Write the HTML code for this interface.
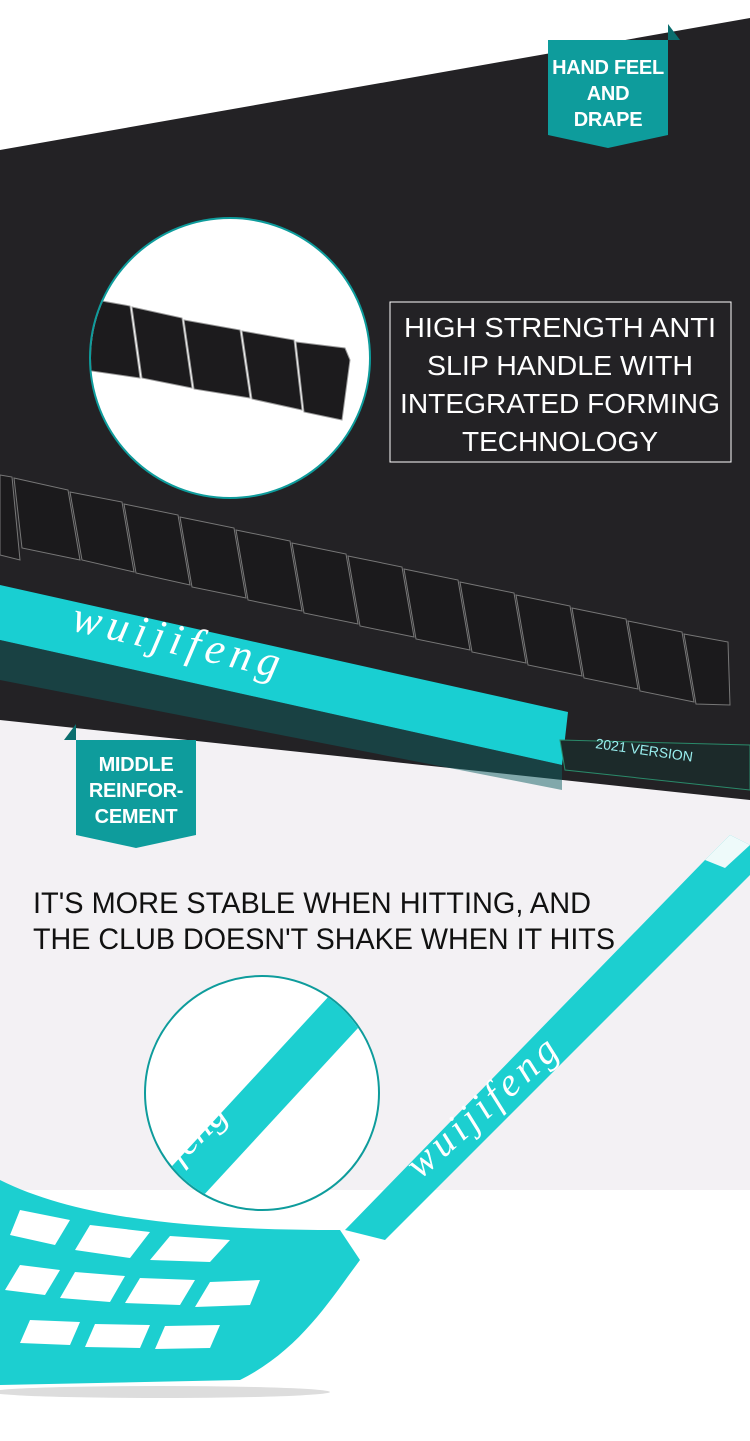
<!DOCTYPE html>
<html><head><meta charset="utf-8"><style>
html,body{margin:0;padding:0}
body{width:750px;height:1441px;position:relative;overflow:hidden;background:#fff;font-family:"Liberation Sans",sans-serif}
.abs{position:absolute}
.badge{position:absolute;width:120px;color:#fff;font-weight:bold;font-size:20px;line-height:26px;text-align:center;white-space:nowrap;letter-spacing:-0.3px}
</style></head><body>
<svg class="abs" style="left:0;top:0" width="750" height="1441" viewBox="0 0 750 1441">
 <rect x="0" y="0" width="750" height="1441" fill="#fff"/>
 <rect x="0" y="700" width="750" height="490" fill="#f3f1f4"/>
 <polygon points="0,150 750,18 750,800 0,720" fill="#232225"/>
 <g fill="#1b1a1c" stroke="#777" stroke-width="1">
  <polygon points="0,475 12,477 20,560 0,555"/>
  <polygon points="14,478 68,490 80,560 22,548"/>
  <polygon points="70,492 122,502 134,572 82,560"/>
  <polygon points="124,504 178,515 190,585 136,573"/>
  <polygon points="180,517 234,528 246,598 192,587"/>
  <polygon points="236,530 290,541 302,611 248,600"/>
  <polygon points="292,543 346,554 358,624 304,613"/>
  <polygon points="348,556 402,567 414,637 360,626"/>
  <polygon points="404,569 458,580 470,650 416,639"/>
  <polygon points="460,582 514,593 526,663 472,652"/>
  <polygon points="516,595 570,606 582,676 528,665"/>
  <polygon points="572,608 626,619 638,689 584,678"/>
  <polygon points="628,621 682,632 694,702 640,691"/>
  <polygon points="684,634 728,642 730,705 696,704"/>
 </g>
 <polygon points="0,585 568,712 562,765 0,640" fill="#19cfd2"/>
 <polygon points="0,640 562,765 562,790 0,680" fill="#0f5f62" opacity="0.5"/>
 <text x="70" y="630" fill="#fff" font-family="Liberation Serif,serif" font-style="italic" font-size="44" transform="rotate(13 70 630)" letter-spacing="6">wuijifeng</text>
 <polygon points="560,740 750,745 750,790 565,770" fill="#1c2a2a" stroke="#2a8a6a"/>
 <text x="595" y="748" fill="#9ee" font-size="14" transform="rotate(8 595 748)">2021 VERSION</text>
 <polygon points="730,835 750,845 750,875 385,1240 345,1230 705,860" fill="#1ccfd0"/>
 <polygon points="705,860 730,835 750,845 725,868" fill="#eefafa"/>
 <text x="420" y="1180" fill="#fff" font-family="Liberation Serif,serif" font-style="italic" font-size="40" transform="rotate(-42 420 1180)" letter-spacing="5">wuijifeng</text>
 <path d="M0,1180 C80,1220 200,1230 340,1230 L360,1260 C330,1300 300,1350 240,1380 L0,1385 Z" fill="#1ccfd0"/>
 <g fill="#fff">
  <polygon points="20,1210 70,1220 55,1245 10,1235"/>
  <polygon points="90,1225 150,1232 130,1258 75,1250"/>
  <polygon points="170,1236 230,1240 210,1262 150,1260"/>
  <polygon points="20,1265 60,1270 45,1295 5,1290"/>
  <polygon points="75,1272 125,1276 110,1302 60,1298"/>
  <polygon points="140,1278 195,1280 180,1305 125,1303"/>
  <polygon points="210,1282 260,1280 250,1305 195,1307"/>
  <polygon points="30,1320 80,1322 70,1345 20,1343"/>
  <polygon points="95,1324 150,1325 140,1348 85,1347"/>
  <polygon points="165,1326 220,1325 210,1348 155,1349"/>
 </g>
 <ellipse cx="160" cy="1392" rx="170" ry="6" fill="#ddd"/>
 <circle cx="230" cy="358" r="140" fill="#fff" stroke="#0e9c9c" stroke-width="2"/>
 <clipPath id="c1"><circle cx="230" cy="358" r="139"/></clipPath>
 <g clip-path="url(#c1)" fill="#1c1b1d" stroke="#999" stroke-width="1">
  <polygon points="85,298 130,306 140,378 85,370"/>
  <polygon points="132,307 182,318 192,388 142,378"/>
  <polygon points="184,320 240,330 250,398 194,389"/>
  <polygon points="242,331 294,340 302,410 252,399"/>
  <polygon points="296,342 345,348 350,360 342,420 304,412"/>
 </g>
 <circle cx="262" cy="1093" r="117" fill="#fff" stroke="#0e9c9c" stroke-width="2"/>
 <clipPath id="c2"><circle cx="262" cy="1093" r="116"/></clipPath>
 <g clip-path="url(#c2)">
  <polygon points="330,995 370,1015 190,1210 150,1190" fill="#1ccfd0"/>
  <text x="180" y="1165" fill="#fff" font-family="Liberation Serif,serif" font-style="italic" font-size="40" transform="rotate(-45 180 1165)">feng</text>
 </g>
 <rect x="390" y="302" width="341" height="160" fill="none" stroke="#fff" stroke-width="1"/>
 <g fill="#fff" font-size="28" text-anchor="middle" font-family="Liberation Sans,sans-serif">
  <text x="560" y="337" textLength="312" lengthAdjust="spacingAndGlyphs">HIGH STRENGTH ANTI</text>
  <text x="560" y="375" textLength="266" lengthAdjust="spacingAndGlyphs">SLIP HANDLE WITH</text>
  <text x="560" y="413" textLength="320" lengthAdjust="spacingAndGlyphs">INTEGRATED FORMING</text>
  <text x="560" y="451" textLength="196" lengthAdjust="spacingAndGlyphs">TECHNOLOGY</text>
 </g>
 <g fill="#111" font-size="30">
  <text x="33" y="913" textLength="558" lengthAdjust="spacingAndGlyphs">IT'S MORE STABLE WHEN HITTING, AND</text>
  <text x="33" y="949" textLength="582" lengthAdjust="spacingAndGlyphs">THE CLUB DOESN'T SHAKE WHEN IT HITS</text>
 </g>
 <polygon points="548,40 668,40 668,135 608,148 548,135" fill="#0e9c9c"/>
 <polygon points="668,24 668,40 680,40" fill="#0a6e6e"/>
 <polygon points="76,740 196,740 196,835 136,848 76,835" fill="#0e9c9c"/>
 <polygon points="76,724 76,740 64,740" fill="#0a6e6e"/>
</svg>
<div class="badge" style="left:548px;top:55px;">HAND FEEL<br>AND<br>DRAPE</div>
<div class="badge" style="left:76px;top:752px;">MIDDLE<br>REINFOR-<br>CEMENT</div>
</body></html>
